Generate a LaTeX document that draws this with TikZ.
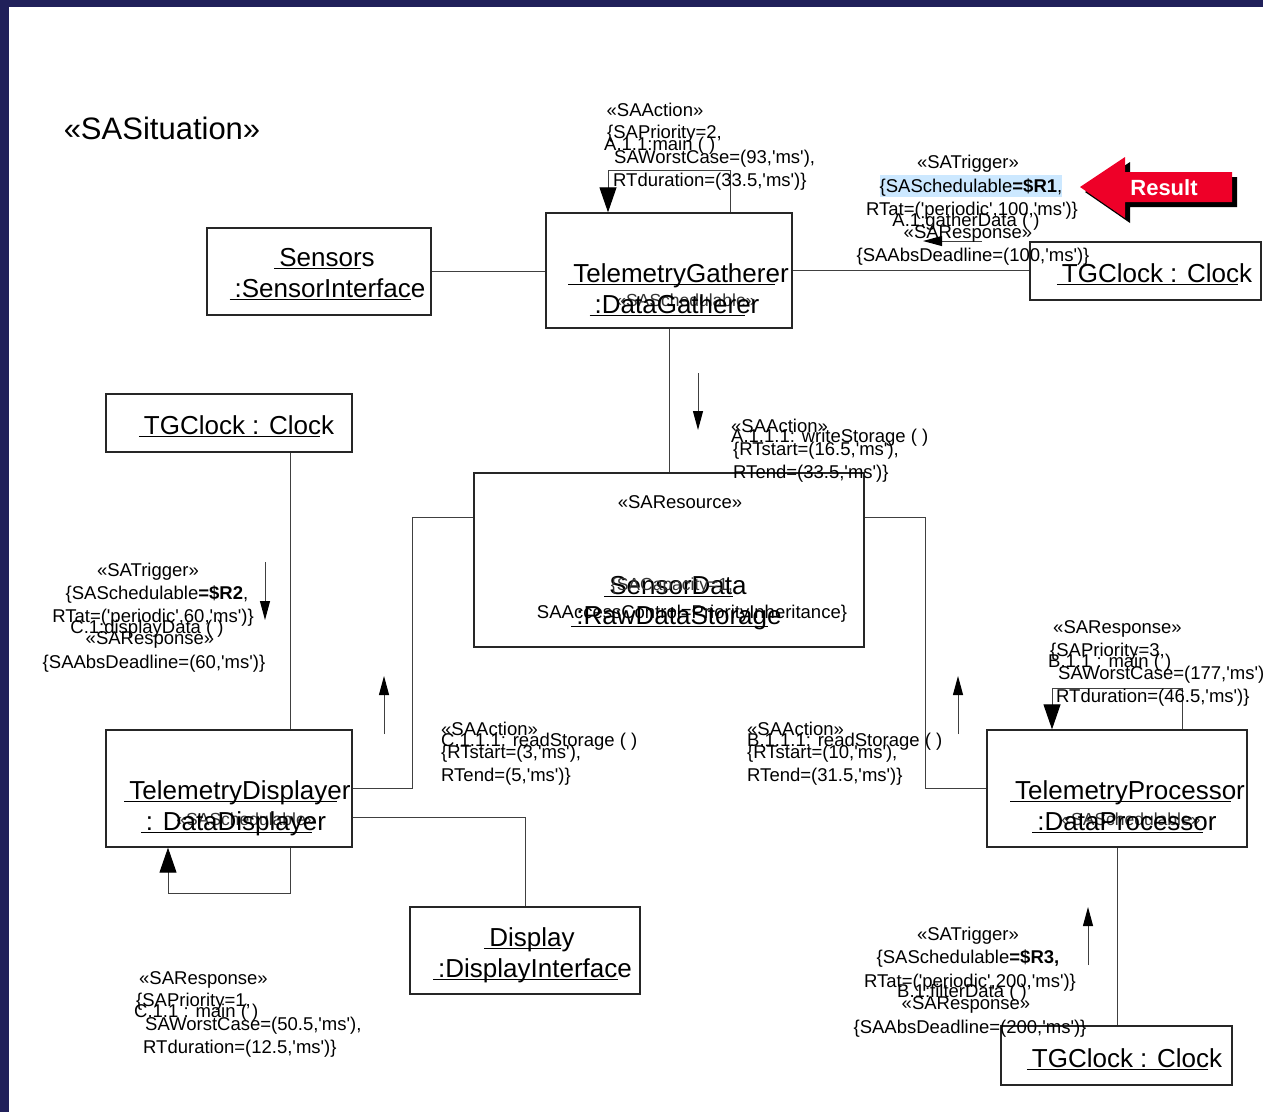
\documentclass[tikz,border=0pt]{standalone}
\usepackage{fontspec}
\setmainfont{Liberation Sans}[Ligatures=TeXOff]
\usetikzlibrary{arrows.meta}
\definecolor{framecol}{RGB}{32,32,90}
\definecolor{resultred}{RGB}{238,0,40}
\definecolor{hilite}{RGB}{204,232,255}
\newlength\ulwd
% underlined object name
\newcommand\objname[1]{\settowidth\ulwd{#1}\addtolength\ulwd{-9pt}\rlap{\kern-5pt\rule[-3pt]{\ulwd}{1.3pt}}#1}
\tikzset{
  objbox/.style={draw=black!85, line width=1.3pt, inner sep=0pt},
  big/.style={font=\fontsize{26}{26}\selectfont, inner sep=0pt, anchor=base},
  small/.style={font=\fontsize{18.5}{18.5}\selectfont, inner sep=0pt, anchor=base},
  smallL/.style={small, anchor=base west},
  stereo/.style={font=\fontsize{17.5}{17.5}\selectfont, inner sep=0pt, anchor=base, text=black!80},
  link/.style={draw=black!75, line width=1pt},
  msg/.style={link, -{Triangle[width=10pt,length=19pt,color=black]}},
  selfloop/.style={link, -{Triangle[width=17pt,length=25pt,color=black]}},
}
\begin{document}
\begin{tikzpicture}[x=1pt,y=-1pt]
\useasboundingbox (0,0) rectangle (1263,1112);
\fill[white] (0,0) rectangle (1263,1112);
% frame bands
\fill[framecol] (0,0) rectangle (1263,7);
\fill[framecol] (0,0) rectangle (9,1112);

% object boxes
\node[objbox, minimum width=224, minimum height=87]  (sens) at (319,271.5) {};
\node[objbox, minimum width=246, minimum height=115] (tg)   at (669,270.5) {};
\node[objbox, minimum width=231, minimum height=58]  (clk1) at (1145.5,271) {};
\node[objbox, minimum width=246, minimum height=58]  (clk2) at (229,423) {};
\node[objbox, minimum width=390, minimum height=174] (sd)   at (669,560) {};
\node[objbox, minimum width=246, minimum height=117] (td)   at (229,788.5) {};
\node[objbox, minimum width=230, minimum height=87]  (disp) at (525,950.5) {};
\node[objbox, minimum width=260, minimum height=117] (tp)   at (1117,788.5) {};
\node[objbox, minimum width=231, minimum height=59]  (clk3) at (1116.5,1055.5) {};

% links
\draw[link] (sens.east) -- (sens.east -| tg.west);
\draw[link] (tg.east) -- (tg.east -| clk1.west);
\draw[link] (tg.south) -- (sd.north);
\draw[link] ([xshift=61pt]clk2.south) -- ([xshift=61pt]clk2.south |- td.north);
\draw[link] (td.east |- 0,788) -- (412,788) |- (sd.west |- 0,517);
\draw[link] (td.east |- 0,817) -| (disp.north);
\draw[link] (sd.east |- 0,517) -- (925,517) |- (tp.west |- 0,788);
\draw[link] (tp.south) -- (tp.south |- clk3.north);

% self messages
\draw[selfloop] (tg.north -| 730,0) |- (608,170) -- (tg.north -| 608,0);
\draw[selfloop] (tp.north -| 1182,0) |- (1052,688) -- (tp.north -| 1052,0);
\draw[selfloop] (td.south -| 290,0) |- (168,893) -- (td.south -| 168,0);

% message arrows
\draw[msg] (698,373) -- (698,430);
\draw[msg] (982,241) -- (923,241);
\draw[msg] (265,562) -- (265,620);
\draw[msg] (384,734) -- (384,676);
\draw[msg] (958,734) -- (958,676);
\draw[msg] (1088,965) -- (1088,907);

% situation title
\node[font=\fontsize{31}{31}\selectfont, inner sep=0pt, anchor=base] (title) at (162,139) {«SASituation»};

% object names
\node[big] (sensA) at (327,266) {\objname{Sensors}};
\node[big] (sensB) at (330,297) {\objname{:SensorInterface}};
\node[big] (tgA) at (681,282) {\objname{TelemetryGatherer}};
\node[stereo] (tgS) at (686,306) {«SASchedulable»};
\node[big] (tgB) at (677,313) {\objname{:DataGatherer}};
\node[big] (clk1A) at (1157,282) {\objname{TGClock : Clock}};
\node[big] (clk2A) at (239,434) {\objname{TGClock : Clock}};
\node[small] (sdS) at (680,508) {«SAResource»};
\node[big] (sdA) at (678,594) {\objname{SensorData}};
\node[stereo] (sdC) at (672,590) {\{SACapacity=1,};
\node[small] (sdD) at (692,618) {SAAccessControl=PriorityInheritance\}};
\node[big] (sdB) at (679,624) {\objname{:RawDataStorage}};
\node[big] (tdA) at (240,799) {\objname{TelemetryDisplayer}};
\node[stereo] (tdS) at (246,825) {«SASchedulable»};
\node[big] (tdB) at (236,830) {\objname{: DataDisplayer}};
\node[big] (dispA) at (532,946) {\objname{Display}};
\node[big] (dispB) at (535,977) {\objname{:DisplayInterface}};
\node[big] (tpA) at (1130,799) {\objname{TelemetryProcessor}};
\node[stereo] (tpS) at (1131,825) {«SASchedulable»};
\node[big] (tpB) at (1127,830) {\objname{:DataProcessor}};
\node[big] (clk3A) at (1127,1067) {\objname{TGClock : Clock}};

% A: gatherer main
\node[small] (a1) at (655,116) {«SAAction»};
\node[smallL] (a2) at (607,138) {\{SAPriority=2,};
\node[smallL] (a3) at (604,150) {A.1.1:main ( )};
\node[smallL] (a4) at (614,163) {SAWorstCase=(93,'ms'),};
\node[smallL] (a5) at (613,186) {RTduration=(33.5,'ms')\}};

% A: trigger from clock
\fill[hilite] (880,175) rectangle (1062,197);
\node[small] (r1) at (968,168) {«SATrigger»};
\node[small] (r2) at (971,192) {\{SASchedulable\textbf{=\$R1},};
\node[small] (r3) at (972,215) {RTat=('periodic',100,'ms')\}};
\node[small] (r4) at (966,226) {A.1:gatherData ( )};
\node[small] (r5) at (968,238) {«SAResponse»};
\node[small] (r6) at (973,261) {\{SAAbsDeadline=(100,'ms')\}};

% result callout
\fill[black, shift={(5,5)}] (1080,187) -- (1125,157) -- (1125,172) -- (1232,172) -- (1232,202) -- (1125,202) -- (1125,218) -- cycle;
\fill[resultred] (1080,187) -- (1125,157) -- (1125,172) -- (1232,172) -- (1232,202) -- (1125,202) -- (1125,218) -- cycle;
\node[font=\fontsize{22}{22}\selectfont\bfseries, text=white, inner sep=0pt, anchor=base] (res) at (1164,195) {Result};

% A: write storage
\node[smallL] (w1) at (731,432) {«SAAction»};
\node[smallL] (w2) at (731,442) {A.1.1.1: writeStorage ( )};
\node[smallL] (w3) at (733,455) {\{RTstart=(16.5,'ms'),};
\node[smallL] (w4) at (733,478) {RTend=(33.5,'ms')\}};

% C: trigger
\node[small] (c1) at (148,576) {«SATrigger»};
\node[small] (c2) at (157,599) {\{SASchedulable\textbf{=\$R2},};
\node[small] (c3) at (153,622) {RTat=('periodic',60,'ms')\}};
\node[small] (c4) at (147,633) {C.1:displayData ( )};
\node[small] (c5) at (150,644) {«SAResponse»};
\node[small] (c6) at (154,668) {\{SAAbsDeadline=(60,'ms')\}};

% C: read storage
\node[smallL] (cr1) at (441,735) {«SAAction»};
\node[smallL] (cr2) at (441,746) {C.1.1.1: readStorage ( )};
\node[smallL] (cr3) at (441,758) {\{RTstart=(3,'ms'),};
\node[smallL] (cr4) at (441,781) {RTend=(5,'ms')\}};

% B: read storage
\node[smallL] (br1) at (747,735) {«SAAction»};
\node[smallL] (br2) at (747,746) {B.1.1.1: readStorage ( )};
\node[smallL] (br3) at (747,758) {\{RTstart=(10,'ms'),};
\node[smallL] (br4) at (747,781) {RTend=(31.5,'ms')\}};

% B: processor main
\node[smallL] (bm1) at (1053,633) {«SAResponse»};
\node[smallL] (bm2) at (1050,656) {\{SAPriority=3,};
\node[smallL] (bm3) at (1048,667) {B.1.1 : main ( )};
\node[smallL] (bm4) at (1058,679) {SAWorstCase=(177,'ms'),};
\node[smallL] (bm5) at (1056,702) {RTduration=(46.5,'ms')\}};

% B: trigger
\node[small] (b1) at (968,940) {«SATrigger»};
\node[small] (b2) at (968,963) {\{SASchedulable\textbf{=\$R3,}};
\node[small] (b3) at (970,987) {RTat=('periodic',200,'ms')\}};
\node[small] (b4) at (962,997) {B.1:filterData ( )};
\node[small] (b5) at (966,1009) {«SAResponse»};
\node[small] (b6) at (970,1033) {\{SAAbsDeadline=(200,'ms')\}};

% C: displayer main
\node[smallL] (cm1) at (139,984) {«SAResponse»};
\node[smallL] (cm2) at (136,1006) {\{SAPriority=1,};
\node[smallL] (cm3) at (134,1017) {C.1.1 : main ( )};
\node[smallL] (cm4) at (145,1030) {SAWorstCase=(50.5,'ms'),};
\node[smallL] (cm5) at (143,1053) {RTduration=(12.5,'ms')\}};
\end{tikzpicture}
\end{document}
